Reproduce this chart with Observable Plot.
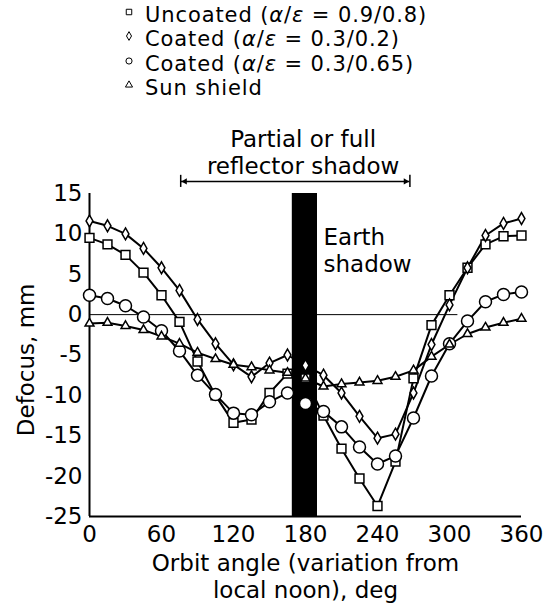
<!DOCTYPE html>
<html><head><meta charset="utf-8">
<script src="https://cdn.jsdelivr.net/npm/d3@7"></script>
<script src="https://cdn.jsdelivr.net/npm/@observablehq/plot@0.6"></script>
<style>
body{margin:0;background:#fff;font-family:"DejaVu Sans",sans-serif;}
#legend{position:relative;width:552px;height:100px;}
.row{position:absolute;left:145px;font-size:21px;letter-spacing:0.9px;line-height:24px;height:24px;white-space:nowrap;color:#000;}
.sym{position:absolute;left:123px;}
#chart svg{display:block;}
</style></head><body>
<div id="legend"></div>
<div id="chart"></div>
<script>
// Orbit angle, deg
const angles = [0,15,30,45,60,75,90,105,120,135,150,165,180,195,210,225,240,255,270,285,300,315,330,345,360];
// Defocus, mm
const uncoated   = [9.5,8.7,7.4,5.2,2.4,-0.9,-5.8,-10.0,-13.4,-13.0,-9.7,-7.3,-7.9,-12.5,-16.6,-20.3,-23.7,-18.2,-7.9,-1.3,2.4,5.8,8.7,9.7,9.8];
const coated02   = [11.6,11.0,10.0,8.2,5.8,3.0,-0.6,-3.6,-6.2,-7.7,-6.0,-5.0,-6.3,-7.5,-9.7,-12.6,-15.3,-14.8,-9.7,-3.7,1.2,5.8,9.8,11.3,11.9];
const coated065  = [2.4,2.0,1.1,-0.3,-2.0,-4.5,-7.5,-9.9,-12.2,-12.4,-10.8,-9.7,-11.0,-12.0,-13.9,-16.4,-18.5,-17.5,-12.8,-7.6,-3.6,-0.8,1.6,2.5,2.8];
const sunShield  = [-1.1,-1.0,-1.4,-1.9,-2.7,-3.6,-4.7,-5.5,-6.2,-6.5,-6.9,-7.2,-7.9,-8.9,-8.6,-8.4,-8.2,-7.7,-6.9,-5.2,-3.7,-2.4,-1.6,-1.0,-0.5];

const seriesNames  = ["Uncoated","Coated","Coated","Sun shield"];
const seriesRatios = ["0.9/0.8","0.3/0.2","0.3/0.65",null];
const seriesSymbols = ["square","diamond","circle","triangle"];
const seriesValues = [uncoated, coated02, coated065, sunShield];

const xTicks = [0,60,120,180,240,300,360];
const yTicks = [-25,-20,-15,-10,-5,0,5,10,15];

// Legend (HTML above the SVG)
const legend = document.getElementById("legend");
const d3sym = {square: d3.symbolSquare, diamond: d3.symbolDiamond, circle: d3.symbolCircle, triangle: d3.symbolTriangle};
const legSize = {square: 30, diamond: 22, circle: 30, triangle: 22};
seriesNames.forEach((name, i) => {
  const s = seriesSymbols[i];
  const svg = d3.create("svg").attr("class","sym").attr("width",12).attr("height",12)
    .style("top", (6 + i*24.4) + "px");
  svg.append("path").attr("transform","translate(6,6)")
    .attr("d", d3.symbol(d3sym[s], legSize[s])())
    .attr("fill","white").attr("stroke","black").attr("stroke-width",1);
  legend.appendChild(svg.node());
  const row = document.createElement("div");
  row.className = "row";
  row.style.top = (2.7 + i*24.4) + "px";
  row.innerHTML = seriesRatios[i] ? `${name} (<i>α</i>/<i>ε</i> = ${seriesRatios[i]})` : name;
  legend.appendChild(row);
});

const table = [];
seriesValues.forEach((vals, k) => vals.forEach((v, j) => table.push({series: k, angle: angles[j], defocus: v})));

const symR = {square: 5, diamond: 3.6, circle: 6, triangle: 3.3};

const marks = [
  Plot.ruleY([0], {x1: 0, x2: 307, stroke: "black", strokeWidth: 1}),
  Plot.rect([{a: 169, b: 190}], {x1: "a", x2: "b", y1: -25, y2: 15, fill: "black"}),
  Plot.ruleX([0], {y1: -25, y2: 15, stroke: "black", strokeWidth: 2}),
  Plot.ruleY([-25], {x1: 0, x2: 360, stroke: "black", strokeWidth: 2}),
  Plot.axisX({ticks: xTicks, tickSize: 0, tickPadding: 9, label: null, tickFormat: d => String(d)}),
  Plot.axisY({ticks: yTicks, tickSize: 0, tickPadding: 7, label: null, tickFormat: d => String(d)}),
];
seriesValues.forEach((vals, k) => {
  const sub = table.filter(d => d.series === k);
  marks.push(Plot.line(sub, {x: "angle", y: "defocus", stroke: "black", strokeWidth: 2}));
});
seriesValues.forEach((vals, k) => {
  const sub = table.filter(d => d.series === k);
  const s = seriesSymbols[k];
  marks.push(Plot.dot(sub, {x: "angle", y: "defocus", symbol: () => s, r: symR[s], fill: "white", stroke: "black", strokeWidth: 1.5}));
});
// annotations
marks.push(
  Plot.text(["Earth\nshadow"], {x: 195, y: 8, text: d => d, textAnchor: "start", lineAnchor: "middle", lineHeight: 1.17, fontSize: 23, fill: "black"}),
  Plot.text(["Partial or full\nreflector shadow"], {x: 178, y: 20.2, text: d => d, textAnchor: "middle", lineAnchor: "middle", lineHeight: 1.17, fontSize: 23, fill: "black"}),
  Plot.ruleY([16.5], {x1: 76, x2: 267, stroke: "black", strokeWidth: 1.5}),
  Plot.dot([{x: 79.6, rot: -90}, {x: 263.4, rot: 90}], {x: "x", y: 16.5, symbol: "triangle2", r: 3, rotate: "rot", fill: "black"}),
  Plot.ruleX([76, 267], {y1: 15.75, y2: 17.25, stroke: "black", strokeWidth: 1.5}),
  Plot.text(["Defocus, mm"], {x: -52.5, y: -5.6, text: d => d, rotate: -90, fontSize: 23, fill: "black"}),
  Plot.text(["Orbit angle (variation from\nlocal noon), deg"], {x: 180, y: -32.4, text: d => d, textAnchor: "middle", lineAnchor: "middle", lineHeight: 1.17, fontSize: 23, fill: "black"})
);

const chart = Plot.plot({
  width: 552, height: 506,
  marginTop: 93, marginBottom: 90, marginLeft: 89, marginRight: 31,
  x: {domain: [0, 360]},
  y: {domain: [-25, 15]},
  style: {fontFamily: "DejaVu Sans", fontSize: "23px", color: "black", background: "white", overflow: "visible"},
  marks
});
document.getElementById("chart").appendChild(chart);
</script>
</body></html>
